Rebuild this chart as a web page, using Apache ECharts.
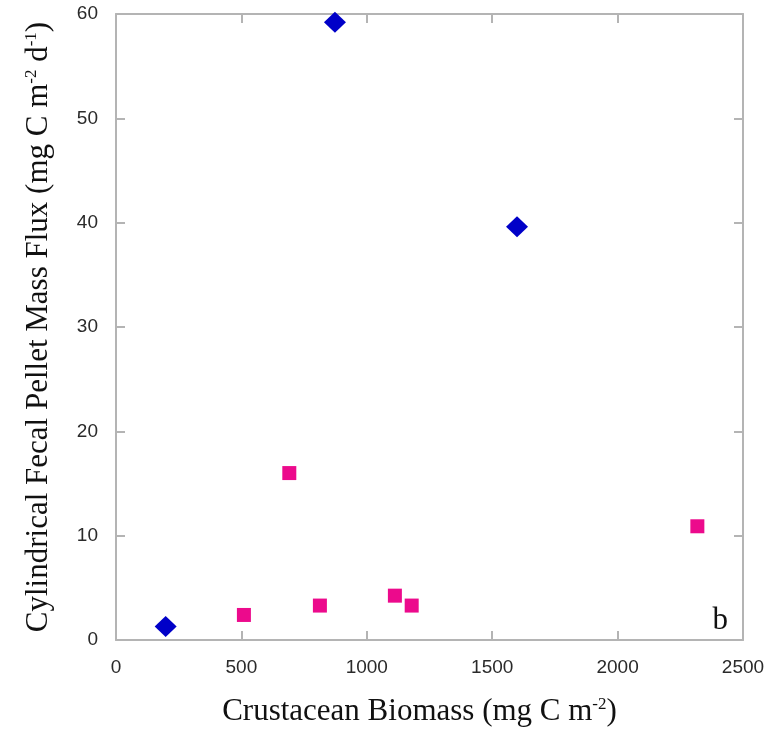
<!DOCTYPE html>
<html>
<head>
<meta charset="utf-8">
<script src="https://cdn.jsdelivr.net/npm/echarts@6/dist/echarts.min.js"></script>
<style>html,body{margin:0;padding:0;background:#fff;}#c{width:768px;height:736px;}</style>
</head>
<body>
<div id="c"></div>
<script>
const xTicks = [0, 500, 1000, 1500, 2000, 2500];
const yTicks = [0, 10, 20, 30, 40, 50, 60];
const blueX = [198, 873, 1599];
const blueY = [1.3, 59.2, 39.6];
const pinkX = [510, 691, 813, 1112, 1179, 2318];
const pinkY = [2.4, 16.0, 3.3, 4.25, 3.3, 10.9];

const chart = echarts.init(document.getElementById('c'));
const axisLine = {show: true, onZero: false, lineStyle: {color: '#b4b4b4', width: 2}};
const tick = {show: true, inside: true, length: 9, lineStyle: {color: '#b4b4b4', width: 2}};
const lbl = {fontFamily: 'Liberation Sans, Arial, sans-serif', fontSize: 19, color: '#2a2a2a', formatter: v => String(v)};
const serif = 'Liberation Serif, Times New Roman, serif';
chart.setOption({
  animation: false,
  backgroundColor: '#fff',
  grid: {left: 116, right: 25, top: 14, bottom: 96, containLabel: false},
  xAxis: [{
    type: 'value', min: xTicks[0], max: xTicks[xTicks.length - 1], interval: 500, position: 'bottom',
    axisLine, axisTick: tick, splitLine: {show: false},
    axisLabel: Object.assign({margin: 18}, lbl),
    name: '{a|Crustacean Biomass (mg C m}{s|-2}{a|)}',
    nameLocation: 'middle', nameGap: 56,
    nameTextStyle: {padding: [0, 20, 0, 0], rich: {
      a: {fontFamily: serif, fontSize: 31, color: '#111'},
      s: {fontFamily: serif, fontSize: 17, color: '#111', padding: [0,0,15,0]}
    }}
  }, {
    type: 'value', min: xTicks[0], max: xTicks[xTicks.length - 1], interval: 500, position: 'top',
    axisLine, axisTick: tick, axisLabel: {show: false}, splitLine: {show: false}
  }],
  yAxis: [{
    type: 'value', min: yTicks[0], max: yTicks[yTicks.length - 1], interval: 10, position: 'left',
    axisLine, axisTick: tick, splitLine: {show: false},
    axisLabel: Object.assign({margin: 18}, lbl),
    name: '{a|Cylindrical Fecal Pellet Mass Flux (mg C m}{s|-2}{a| d}{s|-1}{a|)}',
    nameLocation: 'middle', nameGap: 61, nameRotate: 90,
    nameTextStyle: {rich: {
      a: {fontFamily: serif, fontSize: 31, color: '#111'},
      s: {fontFamily: serif, fontSize: 17, color: '#111', padding: [0,0,15,0]}
    }}
  }, {
    type: 'value', min: yTicks[0], max: yTicks[yTicks.length - 1], interval: 10, position: 'right',
    axisLine, axisTick: tick, axisLabel: {show: false}, splitLine: {show: false}
  }],
  graphic: [{
    type: 'text', right: 40, bottom: 100,
    style: {text: 'b', fontFamily: serif, fontSize: 31, fill: '#111'}
  }],
  series: [{
    type: 'scatter', symbol: 'diamond', symbolSize: [22, 21],
    itemStyle: {color: '#0000c8', opacity: 1},
    data: blueX.map((x, i) => [x, blueY[i]])
  }, {
    type: 'scatter', symbol: 'rect', symbolSize: 14,
    itemStyle: {color: '#ec0a8c', opacity: 1},
    data: pinkX.map((x, i) => [x, pinkY[i]])
  }]
});
</script>
</body>
</html>
